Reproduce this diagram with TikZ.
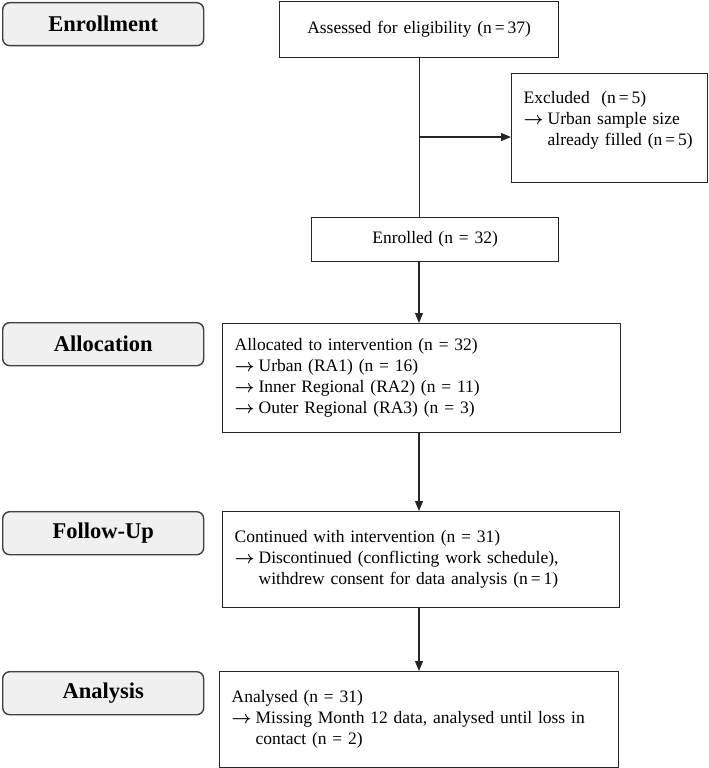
\documentclass[tikz,border=0pt]{standalone}
\usepackage{fontspec}
\setmainfont{Liberation Serif}
\usetikzlibrary{positioning,arrows.meta}

\newcommand{\arw}{\makebox[24pt][l]{\boldmath$\rightarrow$}}
\newcommand{\indnt}{\hspace*{24pt}}

\begin{document}
\begin{tikzpicture}[x=1pt, y=-1pt,
					stage/.style={rectangle, rounded corners=7pt, draw=black!75, fill=black!6, line width=1.4pt, minimum width=201pt, minimum height=43pt, anchor=north west, font=\fontsize{22.5pt}{26pt}\selectfont\bfseries},
					box/.style={rectangle, draw=black!85, line width=1.3pt, anchor=north west, inner xsep=12pt, inner ysep=0pt, font=\fontsize{17.5pt}{21pt}\selectfont},
					flow/.style={line width=1.2pt, draw=black!85}
				]
				\useasboundingbox (0,0) rectangle (709,768);
				% stage labels on the left
				\node[stage] (enroll) at (2,2) {Enrollment};
				\node[stage] (alloc) at (2,322) {Allocation};
				\node[stage] (follow) at (2,511) {Follow-Up};
				\node[stage] (analysis) at (2,671) {Analysis};
				% flow boxes
				\node[box, minimum width=279pt, text width=255pt, align=center, minimum height=56pt] (assessed) at (279,1) {Assessed for eligibility (n\,=\,37)};
				\node[box, minimum width=196pt, text width=180pt, inner xsep=8pt, align=left, minimum height=109pt] (excluded) at (511,73) {\hspace*{4pt}Excluded~ (n\,=\,5)\\ \hspace*{4pt}\arw Urban sample size\\ \hspace*{4pt}\indnt already filled (n\,=\,5)\rule[-20pt]{0pt}{0pt}};
				\node[box, minimum width=247pt, text width=223pt, align=center, minimum height=44pt] (enrolled) at (311,217) {Enrolled (n = 32)};
				\node[box, minimum width=398pt, text width=374pt, align=left, minimum height=109pt] (allocated) at (222,323) {Allocated to intervention (n = 32)\\ \arw Urban (RA1) (n = 16)\\ \arw Inner Regional (RA2) (n = 11)\\ \arw Outer Regional (RA3) (n = 3)};
				\node[box, minimum width=397pt, text width=373pt, align=left, minimum height=96pt] (continued) at (222,511) {Continued with intervention (n = 31)\\ \arw Discontinued (conflicting work schedule),\\ \indnt withdrew consent for data analysis (n\,=\,1)};
				\node[box, minimum width=399pt, text width=375pt, align=left, minimum height=96pt] (analysed) at (219,671) {Analysed (n = 31)\\ \arw Missing Month 12 data, analysed until loss in\\ \indnt contact (n = 2)};
				\coordinate (spine) at (419,0);
				\coordinate (branch) at (419,137);
				\draw[flow] (assessed.south) -- (assessed.south |- enrolled.north);
				\begin{scope}[-{Triangle[length=10pt,width=8pt]}]
				\draw[flow] (branch) -- (branch -| excluded.west);
				\draw[flow] (spine |- enrolled.south) -- (spine |- allocated.north);
				\draw[flow] (spine |- allocated.south) -- (spine |- continued.north);
				\draw[flow] (spine |- continued.south) -- (spine |- analysed.north);
				\end{scope}
				\end{tikzpicture}
\end{document}
